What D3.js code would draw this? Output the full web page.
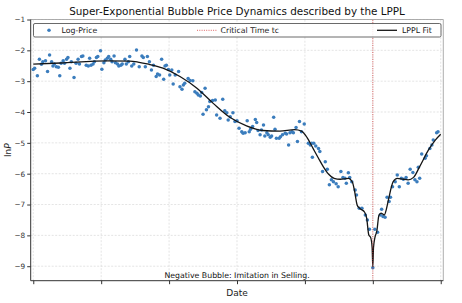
<!DOCTYPE html>
<html>
<head>
<meta charset="utf-8">
<script src="https://cdn.jsdelivr.net/npm/d3@7"></script>
<style>
  body { margin: 0; background: #fff; }
  svg { font-family: "DejaVu Sans", sans-serif; }
</style>
</head>
<body>
<div id="viz_container"></div>
<script>
// observed log-price (days since start, ln P)
const priceDays = [
  0, 2, 6, 9, 12, 14, 18, 21, 24, 27, 29, 31, 34, 37, 39, 41, 44, 46, 49, 51,
  54, 56, 60, 63, 66, 68, 71, 73, 78, 81, 83, 85, 88, 90, 93, 95, 99, 101, 104, 106,
  109, 111, 114, 116, 119, 121, 124, 126, 129, 131, 135, 137, 140, 142, 145, 148, 152,
  156, 160, 162, 165, 168, 171, 174, 177, 181, 183, 186, 189, 192, 194, 196, 199, 201,
  204, 206, 209, 214, 216, 219, 221, 223, 228, 231, 235, 238, 241, 243, 246, 248, 250,
  253, 255, 258, 260, 264, 268, 270, 275, 279, 282, 285, 287, 290, 294, 297, 300, 303,
  307, 309, 312, 315, 318, 320, 323, 327, 329, 331, 334, 336, 339, 341, 344, 346, 349,
  351, 354, 356, 358, 362, 364, 367, 371, 373, 376, 378, 381, 383, 387, 389, 392, 395,
  399, 405, 408, 410, 411, 413, 416, 420, 422, 426, 430, 433, 436, 439, 442, 446, 449,
  453, 456, 459, 461, 464, 466, 469, 474, 476, 480, 484, 489, 492, 495, 500,
  503, 507, 511, 513, 515, 518, 521, 524, 526, 529, 533, 536, 539, 542, 545, 549, 552,
  555, 559, 562, 565, 567, 569, 572, 577, 579, 584, 587, 589, 594, 596
];
const priceLn = [
  -2.62, -2.58, -2.82, -2.29, -2.45, -2.37, -2.34, -2.69, -2.15, -2.37, -2.51, -2.44, -2.53, -2.55, -2.82, -2.42, -2.34, -2.42, -2.29, -2.23,
  -2.58, -2.37, -2.88, -2.42, -2.29, -2.44, -2.20, -2.18, -2.48, -2.51, -2.26, -2.48, -2.44, -2.37, -2.23, -2.20, -2.01, -2.61, -2.40, -2.31,
  -2.26, -2.20, -2.29, -2.37, -2.18, -2.40, -2.44, -2.51, -2.48, -2.44, -2.29, -2.44, -2.37, -2.20, -2.51, -2.44, -1.99,
  -2.53, -2.18, -2.23, -2.53, -2.20, -2.37, -2.64, -2.48, -2.85, -2.77, -2.80, -2.29, -2.94, -2.51, -2.48, -2.62, -2.80,
  -2.64, -3.09, -2.80, -2.69, -3.18, -3.26, -3.12, -3.07, -2.91, -2.98, -2.99, -3.34, -3.39, -3.45, -3.48, -3.37, -4.07,
  -3.23, -3.93, -3.83, -3.66, -3.63, -3.61, -4.10, -4.20, -3.59, -3.96, -4.02, -4.26, -4.15, -4.02, -4.31, -4.28, -4.53,
  -4.64, -4.69, -4.67, -4.28, -4.64, -4.56, -4.47, -4.24, -4.34, -4.60, -4.74, -4.58, -4.42, -4.78, -4.67, -4.74, -4.82,
  -4.78, -4.17, -4.56, -4.85, -4.85, -4.80, -4.74, -4.69, -4.71, -5.07, -4.67, -4.64, -4.67, -4.50, -4.96, -4.31, -4.64,
  -4.39, -5.01, -5.07, -5.01, -5.47, -5.01, -5.10, -5.18, -5.28, -5.93, -5.61, -5.86, -6.36, -6.20, -6.26, -6.33, -6.42,
  -5.93, -6.12, -6.15, -6.31, -5.97, -6.12, -6.26, -6.53, -6.69, -7.12, -7.12, -7.34, -7.50, -7.80, -9.05,
  -7.80, -7.90, -7.34, -7.15, -7.39, -7.41, -6.76, -6.90, -6.76, -6.42, -6.26, -6.04, -6.42, -6.15, -6.18, -6.12, -6.31,
  -5.86, -5.96, -6.20, -6.26, -5.79, -6.15, -5.36, -5.50, -5.42, -5.18, -5.07, -4.91, -4.67, -4.64
];

// LPPL fit curve
const fitDays = [
  0, 40, 110, 142, 154, 170, 191, 216, 241, 265, 290, 314, 338, 363, 385, 395, 403, 412, 420, 427,
  435, 443, 452, 464, 470, 473, 477, 481, 488, 491, 494, 497, 499, 500, 501, 503, 506, 509, 512, 517,
  520, 523, 530, 536, 545, 552, 560, 569, 582, 592, 600
];
const fitLn = [
  -2.45, -2.41, -2.34, -2.35, -2.38, -2.45, -2.58, -2.85, -3.23, -3.72, -4.18, -4.45, -4.60, -4.62, -4.57, -4.62, -4.82, -5.18, -5.50, -5.77,
  -6.02, -6.15, -6.18, -6.15, -6.28, -6.55, -7.02, -7.13, -7.25, -7.45, -7.98, -8.08, -8.40, -9.02, -8.40, -8.08, -7.85, -7.35, -7.28, -7.34,
  -7.15, -6.85, -6.26, -6.15, -6.18, -6.20, -6.12, -5.77, -5.23, -4.91, -4.72
];

const criticalDay = 500;
const xTicks = [0, 100, 200, 300, 400, 500, 600];
const yTicks = [-1, -2, -3, -4, -5, -6, -7, -8, -9];

const width = 462, height = 303;
const margin = { top: 19.5, right: 18.7, bottom: 22.3, left: 30.7 };

const svg = d3.select("#viz_container")
    .append("svg")
    .attr("width", width)
    .attr("height", height);

const x = d3.scaleLinear()
    .domain([-3.8, 603.8])
    .range([margin.left, width - margin.right]);

const y = d3.scaleLinear()
    .domain([-9.47, -1])
    .range([height - margin.bottom, margin.top]);

// grid
svg.append("g")
    .selectAll("line")
    .data(xTicks)
    .join("line")
    .attr("x1", d => x(d)).attr("x2", d => x(d))
    .attr("y1", y.range()[0]).attr("y2", y.range()[1])
    .attr("stroke", "#d2d2d2").attr("stroke-width", 0.6)
    .attr("stroke-dasharray", "2,1.5");

svg.append("g")
    .selectAll("line")
    .data(yTicks)
    .join("line")
    .attr("y1", d => y(d)).attr("y2", d => y(d))
    .attr("x1", x.range()[0]).attr("x2", x.range()[1])
    .attr("stroke", "#d2d2d2").attr("stroke-width", 0.6)
    .attr("stroke-dasharray", "2,1.5");

// scatter
const pts = priceDays.map((d, i) => ({ t: d, v: priceLn[i] }));
svg.append("g")
    .selectAll("circle")
    .data(pts)
    .join("circle")
    .attr("cx", d => x(d.t))
    .attr("cy", d => y(d.v))
    .attr("r", 1.75)
    .attr("fill", "#3b7dbd");

// fit
const fit = fitDays.map((d, i) => ({ t: d, v: fitLn[i] }));
svg.append("path")
    .datum(fit)
    .attr("fill", "none")
    .attr("stroke", "#151515")
    .attr("stroke-width", 1.3)
    .attr("d", d3.line().x(d => x(d.t)).y(d => y(d.v)).curve(d3.curveMonotoneX));

// critical time
svg.append("line")
    .attr("x1", x(criticalDay)).attr("x2", x(criticalDay))
    .attr("y1", y.range()[0]).attr("y2", y.range()[1])
    .attr("stroke", "#d43b3b").attr("stroke-width", 0.8)
    .attr("stroke-dasharray", "1,1.3");

// axes
svg.append("g")
    .attr("transform", `translate(0, ${height - margin.bottom})`)
    .call(d3.axisBottom(x).tickValues(xTicks).tickFormat("").tickSize(3.5))
    .call(g => g.select(".domain").remove())
    .call(g => g.selectAll("line").attr("stroke", "#333"));

svg.append("g")
    .attr("transform", `translate(${margin.left}, 0)`)
    .call(d3.axisLeft(y).tickValues(yTicks).tickFormat(d => "\u2212" + Math.abs(d)).tickSize(3.5).tickPadding(2))
    .call(g => g.select(".domain").remove())
    .call(g => g.selectAll("line").attr("stroke", "#333"))
    .call(g => g.selectAll("text").attr("font-size", 7.3).attr("fill", "#333")
        .attr("font-family", "DejaVu Sans"));

// spines
const [x0, x1] = x.range(), [y0, y1] = y.range();
svg.append("line").attr("x1", x0).attr("x2", x1).attr("y1", y1).attr("y2", y1).attr("stroke", "#999").attr("stroke-width", 0.8);
svg.append("line").attr("x1", x1).attr("x2", x1).attr("y1", y1).attr("y2", y0).attr("stroke", "#999").attr("stroke-width", 0.8);
svg.append("line").attr("x1", x0).attr("x2", x0).attr("y1", y1).attr("y2", y0).attr("stroke", "#333").attr("stroke-width", 1);
svg.append("line").attr("x1", x0).attr("x2", x1).attr("y1", y0).attr("y2", y0).attr("stroke", "#333").attr("stroke-width", 1);

// legend
const leg = svg.append("g");
leg.append("rect")
    .attr("x", 33.5).attr("y", 23.5).attr("width", 407.5).attr("height", 13.5)
    .attr("rx", 1.5)
    .attr("fill", "#fff").attr("fill-opacity", 0.85)
    .attr("stroke", "#444").attr("stroke-width", 0.8);
leg.append("circle").attr("cx", 49).attr("cy", 30.3).attr("r", 1.75).attr("fill", "#3b7dbd");
leg.append("line").attr("x1", 197).attr("x2", 217).attr("y1", 30.3).attr("y2", 30.3)
    .attr("stroke", "#d43b3b").attr("stroke-width", 0.8).attr("stroke-dasharray", "1,1.3");
leg.append("line").attr("x1", 377).attr("x2", 397).attr("y1", 30.3).attr("y2", 30.3)
    .attr("stroke", "#151515").attr("stroke-width", 1.3);
leg.selectAll("text")
    .data([["Log-Price", 61.5], ["Critical Time tc", 220.5], ["LPPL Fit", 402]])
    .join("text")
    .attr("x", d => d[1]).attr("y", 33.2)
    .attr("font-size", 7.8).attr("fill", "#222")
    .text(d => d[0]);

// titles
svg.append("text")
    .attr("x", (x0 + x1) / 2).attr("y", 14.5)
    .attr("text-anchor", "middle").attr("font-size", 10.4).attr("fill", "#111")
    .text("Super-Exponential Bubble Price Dynamics described by the LPPL");

svg.append("text")
    .attr("x", (x0 + x1) / 2).attr("y", 296)
    .attr("text-anchor", "middle").attr("font-size", 9).attr("fill", "#222")
    .text("Date");

const yl = svg.append("text")
    .attr("transform", `translate(10.5, ${(y0 + y1) / 2}) rotate(-90)`)
    .attr("text-anchor", "middle").attr("font-size", 9).attr("fill", "#222");
yl.append("tspan").text("ln");
yl.append("tspan").attr("font-style", "italic").text("P");

svg.append("text")
    .attr("x", (x0 + x1) / 2).attr("y", 278)
    .attr("text-anchor", "middle").attr("font-size", 7.8).attr("fill", "#111")
    .text("Negative Bubble: Imitation in Selling.");
</script>
</body>
</html>
